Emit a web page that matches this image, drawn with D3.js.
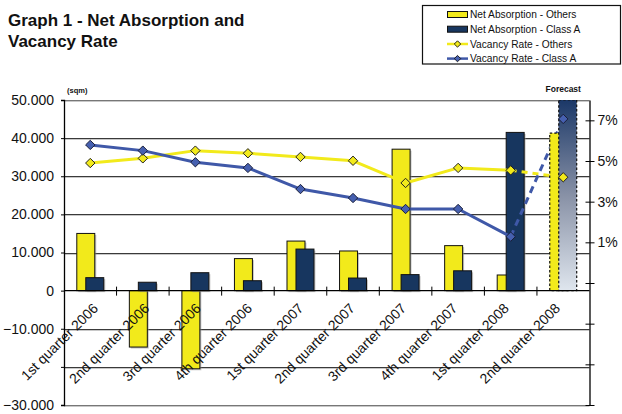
<!DOCTYPE html>
<html>
<head>
<meta charset="utf-8">
<script src="https://cdn.jsdelivr.net/npm/d3@7/dist/d3.min.js"></script>
<style>
  html, body { margin: 0; padding: 0; background: #fff; }
  svg { display: block; font-family: "Liberation Sans", Arial, sans-serif; }
</style>
</head>
<body>
<svg id="chart" width="622" height="414"></svg>
<script>
// Quarterly net absorption (sqm) and vacancy rates (%)
const categories = [
  "1st quarter 2006", "2nd quarter 2006", "3rd quarter 2006", "4th quarter 2006",
  "1st quarter 2007", "2nd quarter 2007", "3rd quarter 2007", "4th quarter 2007",
  "1st quarter 2008", "2nd quarter 2008"
];
const absorptionOthers = [15000, -14800, -20500, 8400, 13000, 10400, 37100, 11800, 4100, 41300];
const absorptionClassA = [3400, 2200, 4700, 2600, 10900, 3300, 4200, 5200, 41500, 50000];
const vacancyOthers = [4.90, 5.13, 5.51, 5.38, 5.20, 5.01, 3.92, 4.66, 4.54, 4.20];
const vacancyClassA = [5.79, 5.51, 4.94, 4.66, 3.62, 3.18, 2.64, 2.64, 1.28, 7.07];
const forecastIndex = 9;

const leftTicks = [50000, 40000, 30000, 20000, 10000, 0, -10000, -20000, -30000];
const hiddenLeftLabels = [-20000]; // covered by the rotated category labels
const rightTicks = [7, 5, 3, 1, -1, -3, -5, -7];

const seriesNames = [
  "Net Absorption - Others", "Net Absorption - Class A",
  "Vacancy Rate - Others", "Vacancy Rate - Class A"
];

const YELLOW = "#f2ea1b";
const NAVY = "#17365f";
const BLUE = "#3f58a8";
const BLUE_MARK = "#4660b0";

const svg = d3.select("#chart");
const plot = { left: 64, right: 589.5, top: 100, bottom: 405 };

const x = d3.scaleBand().domain(categories).range([plot.left, plot.right]).padding(0);
const y = d3.scaleLinear().domain([-30000, 50000]).range([plot.bottom, plot.top]);
const yr = d3.scaleLinear().domain([-7, 8]).range([plot.bottom, plot.top]);
// anchor points (text end) of the slanted category labels
const xLabel = d3.scalePoint().domain(categories).range([99, 561]);

const loc = d3.formatLocale({ decimal: ",", thousands: ".", grouping: [3], currency: ["", ""] });
const fmtLeft = v => hiddenLeftLabels.includes(v) ? "" : (v === 0 ? "0" : loc.format(",.0f")(v));

const cx = d => x(d) + x.bandwidth() / 2;
const barW = x.bandwidth() * 0.342;

// Gradient for the forecast Class A bar
const defs = svg.append("defs");
const grad = defs.append("linearGradient").attr("id", "fcGrad")
  .attr("x1", 0).attr("y1", 0).attr("x2", 0).attr("y2", 1);
grad.append("stop").attr("offset", "0%").attr("stop-color", "#1b3868");
grad.append("stop").attr("offset", "50%").attr("stop-color", "#8891a6");
grad.append("stop").attr("offset", "100%").attr("stop-color", "#dfe6ee");

defs.append("clipPath").attr("id", "plotClip").append("rect")
  .attr("x", plot.left).attr("y", plot.top)
  .attr("width", plot.right - plot.left).attr("height", plot.bottom - plot.top);

// Title
const title = svg.append("text").attr("x", 8).attr("y", 26)
  .attr("font-size", 17).attr("font-weight", "bold").attr("fill", "#111");
title.append("tspan").attr("x", 8).attr("y", 26).text("Graph 1 - Net Absorption and");
title.append("tspan").attr("x", 8).attr("y", 47).text("Vacancy Rate");

// Horizontal gridlines
const gridG = svg.append("g");
leftTicks.forEach(t => {
  if (t === 0) return;
  const yy = Math.round(y(t)) + 0.5;
  gridG.append("line").attr("x1", plot.left).attr("x2", plot.right)
    .attr("y1", yy + 1).attr("y2", yy + 1).attr("stroke", "#c8c8c8").attr("stroke-width", 1);
  gridG.append("line").attr("x1", plot.left).attr("x2", plot.right)
    .attr("y1", yy).attr("y2", yy).attr("stroke", t === 50000 || t === -30000 ? "#777" : "#3a3a3a")
    .attr("stroke-width", 1.2);
});

// Bars (historical quarters)
const barsG = svg.append("g").attr("clip-path", "url(#plotClip)");
function drawBar(g, xPos, v, fill, dashed) {
  const y0 = y(0), y1 = y(v);
  const top = Math.min(y0, y1), h = Math.abs(y1 - y0);
  if (!dashed) {
    g.append("rect").attr("x", xPos + 1.5).attr("y", top + 1.5).attr("width", barW).attr("height", h)
      .attr("fill", "#999").attr("opacity", 0.55);
  }
  g.append("rect").attr("x", xPos).attr("y", top).attr("width", barW).attr("height", h)
    .attr("fill", fill).attr("stroke", "#111").attr("stroke-width", dashed ? 1.2 : 1)
    .attr("stroke-dasharray", dashed ? "2.5,2" : null);
}
categories.forEach((c, i) => {
  if (i === forecastIndex) return;
  drawBar(barsG, cx(c) - 0.75 * barW, absorptionOthers[i], YELLOW, false);
});
categories.forEach((c, i) => {
  if (i === forecastIndex) return;
  drawBar(barsG, cx(c) - 0.25 * barW, absorptionClassA[i], NAVY, false);
});

// Vacancy lines: solid for actuals, dashed into the forecast quarter
const lineG = svg.append("g");
const line = d3.line().x(d => cx(d.c)).y(d => yr(d.v));
function drawVacancy(values, color, dash) {
  const pts = categories.map((c, i) => ({ c, v: values[i] }));
  lineG.append("path").datum(pts.slice(0, forecastIndex))
    .attr("d", line).attr("fill", "none").attr("stroke", color).attr("stroke-width", 3)
    .attr("stroke-linejoin", "round");
  lineG.append("path").datum(pts.slice(forecastIndex - 1))
    .attr("d", line).attr("fill", "none").attr("stroke", color).attr("stroke-width", 3)
    .attr("stroke-dasharray", dash);
}
drawVacancy(vacancyOthers, YELLOW, "6,5");
drawVacancy(vacancyClassA, BLUE, "7,5");

// Forecast bars
const fc = categories[forecastIndex];
const fcG = svg.append("g").attr("clip-path", "url(#plotClip)");
drawBar(fcG, cx(fc) - 0.75 * barW, absorptionOthers[forecastIndex], YELLOW, true);
drawBar(fcG, cx(fc) - 0.25 * barW, absorptionClassA[forecastIndex], "url(#fcGrad)", true);

// Diamond markers
const diamond = d3.symbol().type(d3.symbolDiamond2).size(56);
function drawMarkers(values, fill, stroke) {
  svg.append("g").selectAll("path").data(categories).join("path")
    .attr("d", diamond)
    .attr("transform", (c, i) => `translate(${cx(c)},${yr(values[i])})`)
    .attr("fill", fill).attr("stroke", stroke).attr("stroke-width", 1);
}
drawMarkers(vacancyOthers, YELLOW, "#222");
drawMarkers(vacancyClassA, BLUE_MARK, "#1a1f3a");

// Left axis
const leftAxis = svg.append("g").attr("transform", `translate(${plot.left},0)`)
  .call(d3.axisLeft(y).tickValues(leftTicks).tickFormat(fmtLeft).tickSize(3).tickPadding(7));
leftAxis.select(".domain").attr("stroke", "#000").attr("stroke-width", 1.3);
leftAxis.selectAll(".tick line").attr("stroke", "#000");
leftAxis.selectAll("text").attr("font-size", 14).attr("fill", "#111")
  .attr("font-family", "Liberation Sans, Arial, sans-serif");

// Right axis
const rightAxis = svg.append("g").attr("transform", `translate(${plot.right},0)`)
  .call(d3.axisRight(yr).tickValues(rightTicks).tickFormat(v => v > 0 ? v + "%" : "")
    .tickSizeInner(5).tickSizeOuter(0).tickPadding(3));
rightAxis.select(".domain").attr("stroke", "#000").attr("stroke-width", 1.3);
rightAxis.selectAll(".tick line").attr("x1", -4).attr("stroke", "#000");
rightAxis.selectAll("text").attr("font-size", 14).attr("fill", "#111")
  .attr("font-family", "Liberation Sans, Arial, sans-serif");

// Category axis along zero
const zeroY = y(0);
const catG = svg.append("g");
catG.append("line").attr("x1", plot.left).attr("x2", plot.right)
  .attr("y1", zeroY).attr("y2", zeroY).attr("stroke", "#000").attr("stroke-width", 1.3);
categories.forEach((c, i) => {
  if (i === 0) return;
  catG.append("line").attr("x1", x(c)).attr("x2", x(c))
    .attr("y1", zeroY - 4).attr("y2", zeroY + 5).attr("stroke", "#000").attr("stroke-width", 1);
});
catG.selectAll("text").data(categories).join("text")
  .attr("transform", c => `translate(${xLabel(c)},${zeroY + 18.5}) rotate(-45)`)
  .attr("text-anchor", "end").attr("font-size", 14).attr("fill", "#111")
  .text(c => c);

// Unit and forecast labels
svg.append("text").attr("x", 67).attr("y", 93).attr("font-size", 7.5).attr("font-weight", "bold")
  .attr("fill", "#111").text("(sqm)");
svg.append("text").attr("x", cx(fc)).attr("y", 92).attr("text-anchor", "middle")
  .attr("font-size", 8.5).attr("font-weight", "bold").attr("fill", "#111").text("Forecast");

// Legend
const lg = svg.append("g");
lg.append("rect").attr("x", 422.5).attr("y", 5.5).attr("width", 198).attr("height", 58.5)
  .attr("fill", "#fff").attr("stroke", "#111").attr("stroke-width", 1.2);
const rowY = [14.5, 29.2, 44, 58.6];
seriesNames.forEach((name, i) => {
  const yy = rowY[i];
  if (i < 2) {
    lg.append("rect").attr("x", 447.5).attr("y", yy - 3).attr("width", 20).attr("height", 6)
      .attr("fill", i === 0 ? YELLOW : NAVY).attr("stroke", "#111").attr("stroke-width", 1);
  } else {
    const col = i === 2 ? YELLOW : BLUE;
    lg.append("line").attr("x1", 447).attr("x2", 468).attr("y1", yy).attr("y2", yy)
      .attr("stroke", col).attr("stroke-width", 2.5);
    lg.append("path").attr("d", d3.symbol().type(d3.symbolDiamond2).size(26))
      .attr("transform", `translate(457.5,${yy})`)
      .attr("fill", i === 2 ? YELLOW : BLUE_MARK).attr("stroke", "#111").attr("stroke-width", 0.9);
  }
  lg.append("text").attr("x", 470).attr("y", yy + 3.6).attr("font-size", 10.2).attr("fill", "#111")
    .text(name);
});
</script>
</body>
</html>
